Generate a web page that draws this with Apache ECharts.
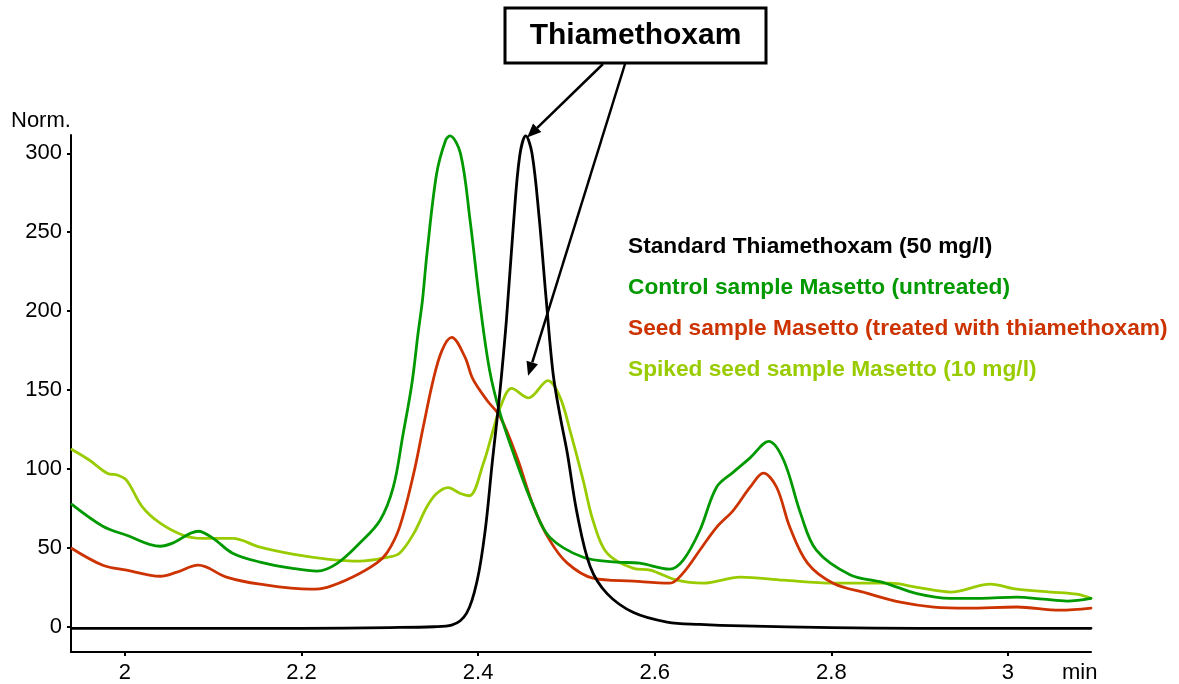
<!DOCTYPE html>
<html>
<head>
<meta charset="utf-8">
<script src="https://cdn.jsdelivr.net/npm/echarts@6/dist/echarts.min.js"></script>
<style>
  html, body { margin: 0; padding: 0; background: #fff; }
  #chart { width: 1179px; height: 684px; }
</style>
</head>
<body>
<div id="chart"></div>
<script>
// Chromatogram traces: retention time (min) and normalised detector signal
const seriesNames = [
  'Standard Thiamethoxam (50 mg/l)',
  'Control sample Masetto (untreated)',
  'Seed sample Masetto (treated with thiamethoxam)',
  'Spiked seed sample Masetto (10 mg/l)'
];

const standardTime   = [1.940, 2.100, 2.200, 2.300, 2.350, 2.370, 2.387, 2.399, 2.408, 2.416, 2.424, 2.432, 2.440, 2.447, 2.454, 2.461, 2.469, 2.477, 2.485, 2.493, 2.501, 2.512, 2.527, 2.546, 2.576, 2.614, 2.651, 2.700, 2.800, 2.900, 3.094];
const standardSignal = [-1, -1, -1, -0.5, 0, 1, 8.6, 29.5, 61, 104, 145, 194, 255, 298, 311, 300, 260, 208, 160, 133, 110, 72, 38, 21, 9, 3, 1.5, 0.5, -0.5, -1, -1];

const controlTime   = [1.940, 1.975, 2.002, 2.040, 2.054, 2.083, 2.100, 2.122, 2.153, 2.190, 2.218, 2.240, 2.266, 2.289, 2.304, 2.315, 2.325, 2.332, 2.337, 2.342, 2.353, 2.363, 2.368, 2.380, 2.391, 2.402, 2.413, 2.425, 2.444, 2.463, 2.481, 2.519, 2.557, 2.583, 2.617, 2.632, 2.651, 2.670, 2.689, 2.708, 2.729, 2.746, 2.765, 2.783, 2.821, 2.859, 2.897, 2.935, 2.970, 3.010, 3.040, 3.067, 3.094];
const controlSignal = [77.5, 63.7, 58, 51, 53, 60.5, 56, 46.6, 41, 37, 35.3, 40, 53, 67.5, 88.6, 122, 154, 186, 207, 236, 287, 308, 311, 300, 257, 205, 162.5, 135, 103.6, 75.8, 56.8, 44, 41, 40.3, 36.5, 42, 61, 88.4, 98, 107, 117.5, 105.5, 72, 48.5, 33, 28, 21, 18, 18, 18.8, 17.5, 16.3, 18];

const seedTime   = [1.940, 1.975, 2.002, 2.040, 2.059, 2.083, 2.115, 2.153, 2.210, 2.229, 2.258, 2.285, 2.297, 2.311, 2.327, 2.338, 2.349, 2.359, 2.370, 2.385, 2.394, 2.410, 2.425, 2.444, 2.463, 2.481, 2.501, 2.530, 2.576, 2.617, 2.632, 2.651, 2.670, 2.689, 2.708, 2.723, 2.738, 2.753, 2.773, 2.802, 2.840, 2.878, 2.916, 2.954, 3.010, 3.059, 3.094];
const seedSignal = [49.6, 39, 35.9, 32, 34.6, 39, 31.5, 27, 23.8, 25, 31.5, 40.3, 47, 63, 97, 127, 156, 175, 183.4, 171, 157, 143.5, 133, 107.4, 75.8, 54.9, 40.3, 30.8, 28.9, 27.6, 34, 48.5, 63, 73.8, 88.4, 97.3, 88.4, 63, 40.3, 27.6, 21.3, 15.6, 12.5, 11.8, 12.5, 10.5, 11.8];

const spikedTime   = [1.940, 1.960, 1.980, 1.992, 2.002, 2.020, 2.040, 2.066, 2.088, 2.122, 2.153, 2.190, 2.229, 2.266, 2.297, 2.311, 2.327, 2.342, 2.353, 2.366, 2.380, 2.390, 2.406, 2.417, 2.425, 2.438, 2.457, 2.479, 2.493, 2.504, 2.519, 2.530, 2.546, 2.576, 2.595, 2.625, 2.655, 2.697, 2.746, 2.802, 2.867, 2.897, 2.935, 2.980, 3.010, 3.048, 3.078, 3.094];
const spikedSignal = [112.3, 105.5, 97.3, 96, 92.8, 75.8, 65.6, 58, 56, 56, 50.4, 46, 42.9, 41.6, 44, 46.6, 59, 76, 84.4, 88.2, 84.4, 83, 103.6, 124.5, 139, 151, 145, 156, 145, 124.5, 92.8, 67.5, 46.6, 37, 35.9, 29.5, 27.6, 31.5, 29.5, 27.6, 27.6, 25, 22, 27, 23.8, 22, 20.6, 18];

const timeTicks   = [2, 2.2, 2.4, 2.6, 2.8, 3];
const signalTicks = [0, 50, 100, 150, 200, 250, 300];

// Arrow targets (time, signal) for the annotation
const arrowTargets = [[2.4555, 310], [2.4566, 159]];

const traceColors = ['#000000', '#009900', '#cc3300', '#99cc00'];
const FONT = '"Liberation Sans", Arial, Helvetica, sans-serif';

function zip(t, v) { return t.map((x, i) => [x, v[i]]); }

const traces = [
  { name: seriesNames[0], data: zip(standardTime, standardSignal), color: traceColors[0], z: 5 },
  { name: seriesNames[1], data: zip(controlTime, controlSignal), color: traceColors[1], z: 4 },
  { name: seriesNames[2], data: zip(seedTime, seedSignal), color: traceColors[2], z: 3 },
  { name: seriesNames[3], data: zip(spikedTime, spikedSignal), color: traceColors[3], z: 2 }
];

const chart = echarts.init(document.getElementById('chart'), null, { renderer: 'canvas' });

const option = {
  animation: false,
  backgroundColor: '#ffffff',
  grid: { left: 71, right: 88, top: 135, bottom: 32, containLabel: false },
  xAxis: {
    type: 'value',
    min: 1.939,
    max: 3.094,
    splitLine: { show: false },
    axisLine: { show: true, onZero: false, lineStyle: { color: '#000', width: 2 } },
    axisTick: { show: true, inside: false, length: 4, customValues: timeTicks, lineStyle: { color: '#000', width: 2 } },
    axisLabel: {
      customValues: timeTicks,
      margin: 10,
      color: '#000',
      fontSize: 22,
      fontFamily: FONT,
      formatter: v => String(Math.round(v * 10) / 10)
    }
  },
  yAxis: {
    type: 'value',
    min: -16,
    max: 311.6,
    splitLine: { show: false },
    axisLine: { show: true, onZero: false, lineStyle: { color: '#000', width: 2 } },
    axisTick: { show: true, inside: false, length: 4, customValues: signalTicks, lineStyle: { color: '#000', width: 2 } },
    axisLabel: {
      customValues: signalTicks,
      margin: 9,
      color: '#000',
      fontSize: 22,
      fontFamily: FONT
    }
  },
  series: traces.map(tr => ({
    type: 'line',
    name: tr.name,
    data: tr.data,
    z: tr.z,
    showSymbol: false,
    symbol: 'none',
    smooth: 0.35,
    clip: true,
    lineStyle: { color: tr.color, width: 2.8, join: 'round', cap: 'round' },
    itemStyle: { color: tr.color }
  }))
};

chart.setOption(option);

function arrow(from, to) {
  const dx = to[0] - from[0], dy = to[1] - from[1];
  const len = Math.hypot(dx, dy);
  const ux = dx / len, uy = dy / len;
  const hl = 14, hw = 6;
  const bx = to[0] - ux * hl, by = to[1] - uy * hl;
  return [
    { type: 'line', z: 20, shape: { x1: from[0], y1: from[1], x2: bx, y2: by }, style: { stroke: '#000', lineWidth: 2.5 } },
    { type: 'polygon', z: 20, shape: { points: [to, [bx - uy * hw, by + ux * hw], [bx + uy * hw, by - ux * hw]] }, style: { fill: '#000' } }
  ];
}

const tip1 = chart.convertToPixel({ gridIndex: 0 }, arrowTargets[0]);
const tip2 = chart.convertToPixel({ gridIndex: 0 }, arrowTargets[1]);

const graphics = [
  // axis captions
  { type: 'text', x: 11, y: 121, style: { text: 'Norm.', fill: '#000', font: '22px ' + FONT, verticalAlign: 'middle' } },
  { type: 'text', x: 1062, y: 673, style: { text: 'min', fill: '#000', font: '22px ' + FONT, verticalAlign: 'middle' } },
  // compound label box
  { type: 'rect', z: 21, shape: { x: 505, y: 8, width: 261, height: 55 }, style: { fill: '#fff', stroke: '#000', lineWidth: 3 } },
  { type: 'text', z: 22, x: 635.5, y: 36, style: { text: 'Thiamethoxam', fill: '#000', font: 'bold 30px ' + FONT, align: 'center', verticalAlign: 'middle' } },
  ...arrow([603, 64], tip1),
  ...arrow([625, 64], tip2),
  // coloured trace captions
  ...seriesNames.map((name, i) => ({
    type: 'text',
    x: 628,
    y: 247 + 41 * i,
    style: { text: name, fill: traceColors[i], font: 'bold 22.7px ' + FONT, verticalAlign: 'middle' }
  }))
];

chart.setOption({ graphic: graphics });
</script>
</body>
</html>
